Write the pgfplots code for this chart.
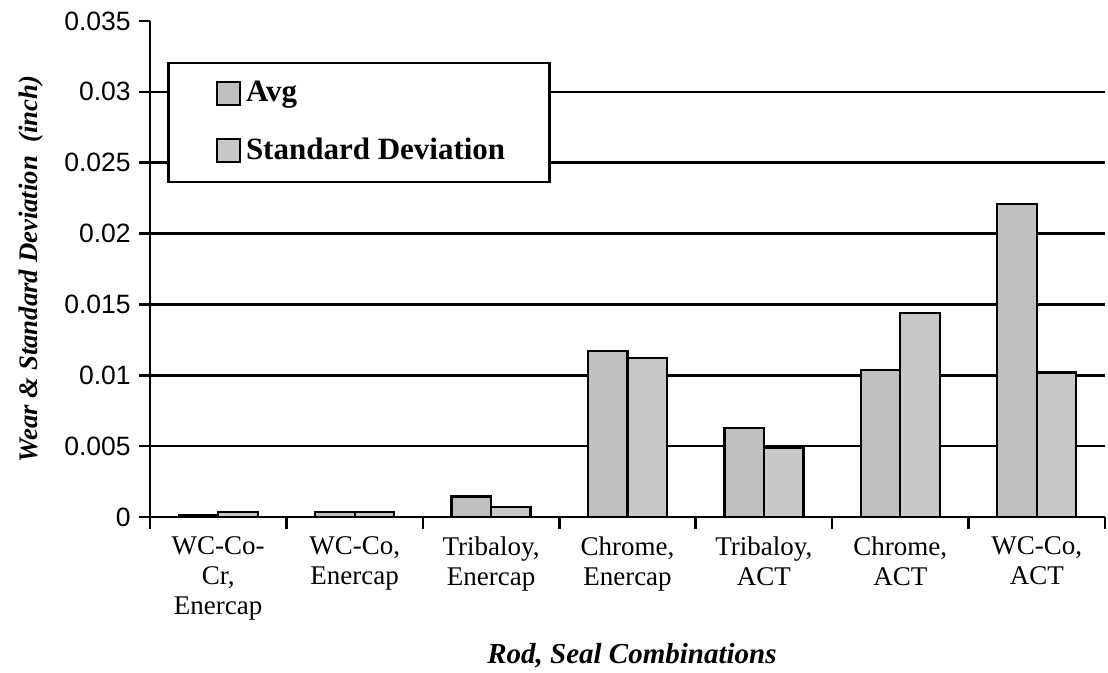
\documentclass[border=0pt]{standalone}
\usepackage{fontspec}
\setmainfont{Liberation Serif}
\setsansfont{Liberation Sans}
\usepackage{pgfplots}
\pgfplotsset{compat=1.18}

\definecolor{avgfill}{RGB}{191,191,191}
\definecolor{sdfill}{RGB}{200,200,200}

\begin{document}
\begin{tikzpicture}
\begin{axis}[
    at={(0pt,0pt)}, anchor=south west,
    scale only axis,
    width=382pt, height=198.4pt,
    xmin=0, xmax=7,
    ymin=0, ymax=0.035,
    axis lines=left,
    axis line style={-, line width=1.1pt},
    ybar=0pt, bar width=15.8pt,
    xtick={0.5,1.5,2.5,3.5,4.5,5.5,6.5},
    xticklabels={{WC-Co-\\Cr,\\Enercap},{WC-Co,\\Enercap},{Tribaloy,\\Enercap},
                 {Chrome,\\Enercap},{Tribaloy,\\ACT},{Chrome,\\ACT},{WC-Co,\\ACT}},
    xticklabel style={align=center, font=\fontsize{10.8}{12}\selectfont},
    major x tick style={draw=none},
    minor xtick={0,1,2,3,4,5,6,7},
    minor tick length=4.8pt,
    minor x tick style={black, line width=1pt},
    scaled y ticks=false,
    ytick={0,0.005,0.01,0.015,0.02,0.025,0.03},
    yticklabels={0,0.005,0.01,0.015,0.02,0.025,0.03},
    extra y ticks={0.035},
    extra y tick labels={0.035},
    extra y tick style={grid=none},
    yticklabel style={font=\sffamily\fontsize{10.6}{12}\selectfont},
    major y tick style={black, line width=1pt},
    major tick length=4.2pt,
    tick align=outside,
    ymajorgrids,
    grid style={black, line width=1pt},
    xlabel={Rod, Seal Combinations},
    xlabel style={font=\bfseries\itshape\fontsize{11.6}{14}\selectfont,
                  at={(axis description cs:0.5,0)}, anchor=center, yshift=-55.6pt, xshift=1.8pt},
    ylabel={Wear \& Standard Deviation\ \ (inch)},
    ylabel style={font=\bfseries\itshape\fontsize{10.7}{13}\selectfont,
                  at={(axis description cs:-0.1246,0.5)}, anchor=center},
    legend style={at={(rel axis cs:0.0178,0.918)}, anchor=north west,
                  draw=black, line width=1pt, fill=white,
                  inner xsep=15.8pt, inner ysep=5.4pt, row sep=9pt,
                  font=\bfseries\fontsize{12.4}{14}\selectfont},
    legend cell align=left,
    every axis plot post/.append style={
        legend image code/.code={\path (0pt,0pt);
            \draw[##1, line width=0.9pt] (3.2pt,-4.6pt) rectangle (12.4pt,4.6pt);}},
]
\addplot[fill=avgfill, draw=black, line width=0.9pt] coordinates {
    (0.5,0.00015) (1.5,0.00035) (2.5,0.00145) (3.5,0.0117)
    (4.5,0.0063) (5.5,0.0104) (6.5,0.0221)
};
\addplot[fill=sdfill, draw=black, line width=0.9pt] coordinates {
    (0.5,0.00035) (1.5,0.00035) (2.5,0.0007) (3.5,0.0112)
    (4.5,0.0049) (5.5,0.0144) (6.5,0.0102)
};
\legend{Avg, Standard Deviation}
\end{axis}
\pgfresetboundingbox
\path[use as bounding box] (-60pt,-62pt) rectangle (383.2pt,206.8pt);
\end{tikzpicture}
\end{document}
